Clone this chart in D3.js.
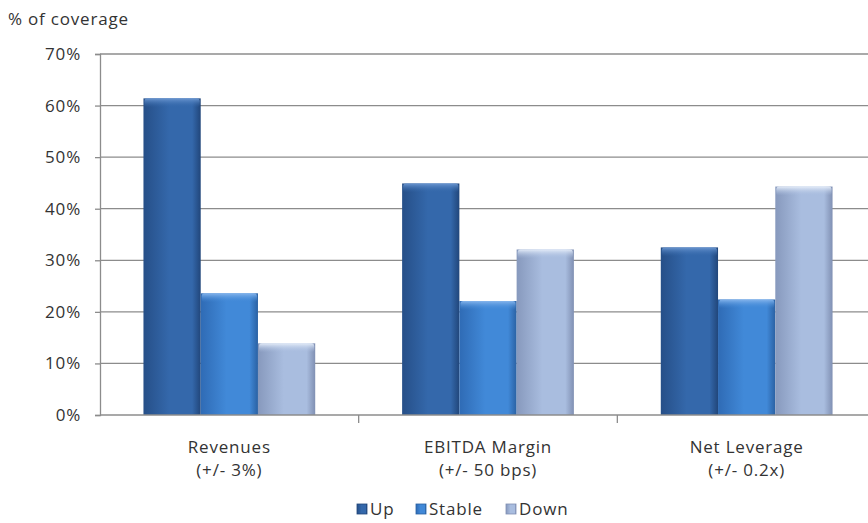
<!DOCTYPE html>
<html>
<head>
<meta charset="utf-8">
<script src="https://cdn.jsdelivr.net/npm/d3@7"></script>
<style>
  body { margin: 0; background: #fff; }
  svg text { font-family: "Open Sans", "DejaVu Sans", sans-serif; fill: #333; letter-spacing: 0.8px; }
</style>
</head>
<body>
<div id="chart"></div>
<script>
// data
const categories = ["Revenues|(+/- 3%)", "EBITDA Margin|(+/- 50 bps)", "Net Leverage|(+/- 0.2x)"];
const seriesNames = ["Up", "Stable", "Down"];
const upValues = [0.614, 0.449, 0.325];
const stableValues = [0.236, 0.221, 0.224];
const downValues = [0.139, 0.321, 0.443];
const yTicks = [0, 0.1, 0.2, 0.3, 0.4, 0.5, 0.6, 0.7];

const width = 868, height = 523;
const plot = {left: 100, right: 876, top: 54, bottom: 415};
const fontSize = 17;

// colours for each series: [edge, middle, right edge, highlight]
const palette = {
    Up: ["#264f88", "#3468ab", "#21467a", "#6b96d0"],
    Stable: ["#2f6bb5", "#4189d8", "#2a61a3", "#86b5ec"],
    Down: ["#8799bd", "#a9bddf", "#8090b3", "#e4ecf8"]
};

const svg = d3.select("#chart").append("svg")
    .attr("width", width)
    .attr("height", height);

const defs = svg.append("defs");
seriesNames.forEach((s, i) => {
    const c = palette[s];
    const g = defs.append("linearGradient").attr("id", "grad" + i)
        .attr("x1", "0").attr("x2", "1").attr("y1", "0").attr("y2", "0");
    g.append("stop").attr("offset", "0%").attr("stop-color", c[0]);
    g.append("stop").attr("offset", "45%").attr("stop-color", c[1]);
    g.append("stop").attr("offset", "85%").attr("stop-color", c[1]);
    g.append("stop").attr("offset", "100%").attr("stop-color", c[2]);
    const t = defs.append("linearGradient").attr("id", "top" + i)
        .attr("x1", "0").attr("x2", "0").attr("y1", "0").attr("y2", "1");
    t.append("stop").attr("offset", "0%").attr("stop-color", c[3]);
    t.append("stop").attr("offset", "100%").attr("stop-color", c[1]).attr("stop-opacity", 0);
});

const y = d3.scaleLinear().domain([0, 0.7]).range([plot.bottom, plot.top]);
const x0 = d3.scaleBand().domain(categories).range([plot.left, plot.right]);
const gp = x0.bandwidth() * 0.168;
const x1 = d3.scaleBand().domain(seriesNames).range([gp, x0.bandwidth() - gp]);

// gridlines
svg.append("g")
    .selectAll("line")
    .data(yTicks.slice(1))
    .join("line")
    .attr("x1", plot.left).attr("x2", plot.right)
    .attr("y1", d => y(d)).attr("y2", d => y(d))
    .attr("stroke", "#8c8c8c")
    .attr("stroke-width", 1.3);

// y axis
const yAxis = svg.append("g")
    .attr("transform", `translate(${plot.left},0)`)
    .call(d3.axisLeft(y).tickValues(yTicks).tickFormat(d3.format(".0%")).tickSize(5).tickPadding(14));
yAxis.select(".domain").attr("stroke", "#8c8c8c").attr("stroke-width", 1.3);
yAxis.selectAll(".tick line").attr("stroke", "#8c8c8c").attr("stroke-width", 1.3);
yAxis.selectAll(".tick text").attr("font-size", fontSize).attr("fill", "#333").attr("font-family", "Open Sans, sans-serif");

// bars
const seriesData = [upValues, stableValues, downValues];
categories.forEach((cat, ci) => {
    const grp = svg.append("g").attr("transform", `translate(${x0(cat)},0)`);
    seriesNames.forEach((s, si) => {
        const v = seriesData[si][ci];
        const bx = x1(s), bw = x1.bandwidth(), by = y(v), bh = y(0) - y(v);
        grp.append("rect")
            .attr("x", bx).attr("y", by)
            .attr("width", bw).attr("height", bh)
            .attr("fill", `url(#grad${si})`);
        grp.append("rect")
            .attr("x", bx + 1).attr("y", by)
            .attr("width", bw - 2).attr("height", 9)
            .attr("rx", 3)
            .attr("fill", `url(#top${si})`);
    });
});

// x axis
svg.append("line")
    .attr("x1", plot.left).attr("x2", plot.right)
    .attr("y1", plot.bottom).attr("y2", plot.bottom)
    .attr("stroke", "#8c8c8c").attr("stroke-width", 1.3);
svg.append("g")
    .selectAll("line")
    .data(categories.slice(1))
    .join("line")
    .attr("x1", d => x0(d)).attr("x2", d => x0(d))
    .attr("y1", plot.bottom).attr("y2", plot.bottom + 8)
    .attr("stroke", "#8c8c8c").attr("stroke-width", 1.3);

const catLabels = svg.append("g")
    .selectAll("text")
    .data(categories)
    .join("text")
    .attr("x", d => x0(d) + x0.bandwidth() / 2)
    .attr("y", 453)
    .attr("text-anchor", "middle")
    .attr("font-size", fontSize);
catLabels.append("tspan").text(d => d.split("|")[0]);
catLabels.append("tspan")
    .attr("x", d => x0(d) + x0.bandwidth() / 2)
    .attr("dy", 23)
    .text(d => d.split("|")[1]);

// y axis title
svg.append("text")
    .attr("x", 8).attr("y", 25)
    .attr("font-size", fontSize)
    .text("% of coverage");

// legend
const legendX = [357, 416, 506];
const legend = svg.append("g");
seriesNames.forEach((s, i) => {
    legend.append("rect")
        .attr("x", legendX[i]).attr("y", 504)
        .attr("width", 10).attr("height", 10)
        .attr("fill", `url(#grad${i})`)
        .attr("stroke", palette[s][2]).attr("stroke-width", 0.8);
    legend.append("text")
        .attr("x", legendX[i] + 13).attr("y", 515)
        .attr("font-size", fontSize)
        .text(s);
});
</script>
</body>
</html>
